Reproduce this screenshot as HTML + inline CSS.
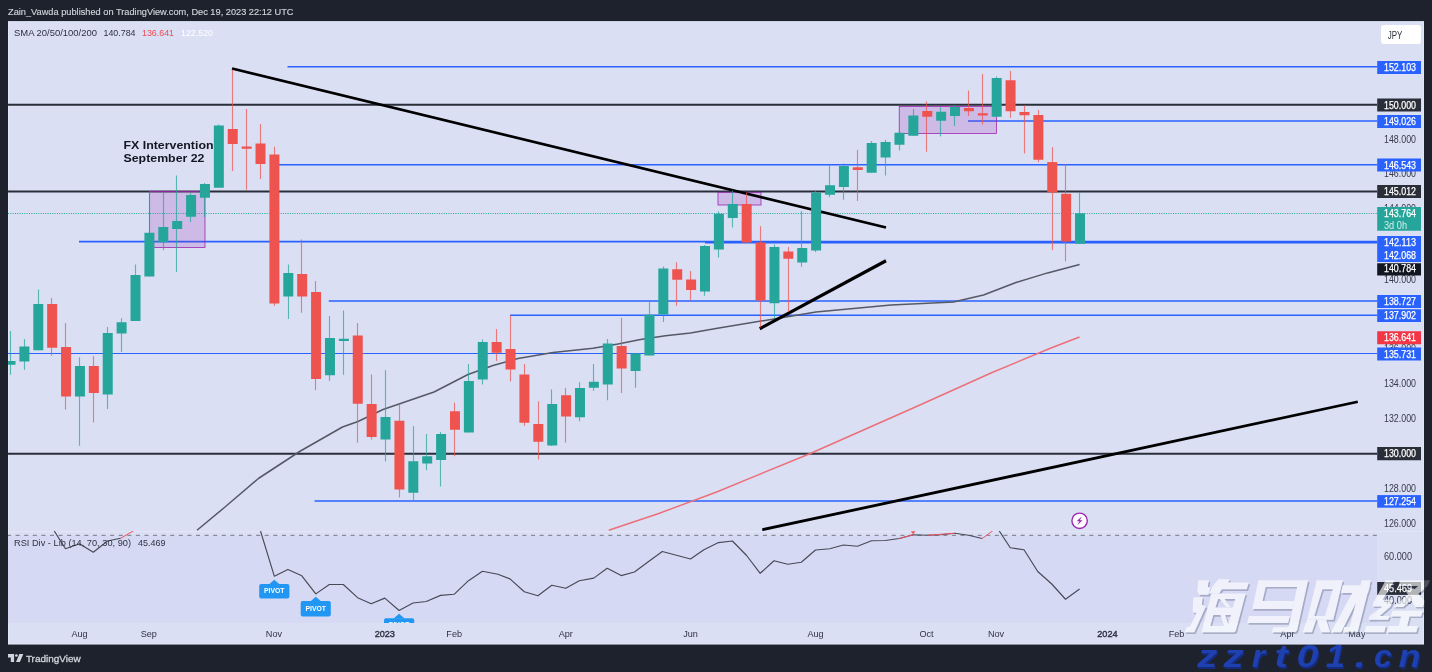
<!DOCTYPE html>
<html><head><meta charset="utf-8"><title>USDJPY</title>
<style>
html,body{margin:0;padding:0;background:#1e222d;}
body{width:1432px;height:672px;overflow:hidden;}
svg{display:block;opacity:0.999;}
text{font-family:"Liberation Sans",sans-serif;}
</style></head><body>
<svg width="1432" height="672" viewBox="0 0 1432 672">
<defs><clipPath id="cp"><rect x="8" y="21" width="1416" height="623"/></clipPath>
<clipPath id="rsi"><rect x="8" y="531" width="1369" height="92"/></clipPath>
<clipPath id="main"><rect x="8" y="21" width="1369" height="510"/></clipPath></defs>
<rect x="0" y="0" width="1432" height="672" fill="#1e222d"/>
<rect x="8" y="21.2" width="1416" height="623.2" fill="#dadff4"/>
<rect x="8.5" y="21.7" width="1415" height="622.2" fill="none" stroke="#e2e9fb" stroke-width="1" opacity="0.7"/>
<rect x="8" y="535.5" width="1369" height="87.3" fill="#d5d9f3"/>

<g clip-path="url(#main)">
<line x1="287.5" y1="66.75" x2="1378" y2="66.75" stroke="#2962ff" stroke-width="1.6"/>
<line x1="968" y1="121" x2="1378" y2="121" stroke="#2962ff" stroke-width="1.6"/>
<line x1="274" y1="164.75" x2="1378" y2="164.75" stroke="#2962ff" stroke-width="1.6"/>
<line x1="79" y1="241.6" x2="1378" y2="241.6" stroke="#2962ff" stroke-width="1.8"/>
<line x1="705" y1="242.6" x2="1378" y2="242.6" stroke="#2962ff" stroke-width="1.8"/>
<line x1="328.75" y1="301" x2="1378" y2="301" stroke="#2962ff" stroke-width="1.6"/>
<line x1="510" y1="315.25" x2="1378" y2="315.25" stroke="#2962ff" stroke-width="1.6"/>
<line x1="8" y1="353.5" x2="1378" y2="353.5" stroke="#2962ff" stroke-width="1.2"/>
<line x1="314.5" y1="501" x2="1378" y2="501" stroke="#2962ff" stroke-width="1.6"/>
<line x1="8" y1="104.75" x2="1378" y2="104.75" stroke="#2a2e39" stroke-width="2"/>
<line x1="8" y1="191.5" x2="1378" y2="191.5" stroke="#2a2e39" stroke-width="2.2"/>
<line x1="8" y1="453.75" x2="1378" y2="453.75" stroke="#2a2e39" stroke-width="2.2"/>
<rect x="149.5" y="191.5" width="55.5" height="56.0" fill="rgba(156,39,176,0.2)" stroke="#9c27b0" stroke-width="0.8"/>
<rect x="718" y="192.25" width="43" height="12.75" fill="rgba(156,39,176,0.2)" stroke="#9c27b0" stroke-width="0.8"/>
<rect x="899.25" y="106.5" width="97.25" height="27.0" fill="rgba(156,39,176,0.2)" stroke="#9c27b0" stroke-width="0.8"/>
<line x1="8" y1="213.5" x2="1378" y2="213.5" stroke="#26a69a" stroke-width="1" stroke-dasharray="1 1.33"/>
<polyline fill="none" stroke="#555965" stroke-width="1.5" stroke-linejoin="round" points="197,530.25 225,507 258.75,478.25 300,451.25 342.5,427 358,421.5 383,409.5 434,392 468,374.5 493,365.5 518,358.5 553,352.5 593,348.25 618,344 640.5,339.5 665.5,335.75 690.5,333 716,328.5 816,312 891,305 953.5,302 983.5,295 1016,282.5 1047.6,272.9 1079.6,264.5"/>
<polyline fill="none" stroke="#ec6f78" stroke-width="1.4" stroke-linejoin="round" points="608.75,530.25 658,513.75 716,492.25 809.75,453.75 916,406.75 991,373 1051,348 1079.5,337"/>
<line x1="232" y1="68.5" x2="886" y2="227.5" stroke="#000" stroke-width="2.8" stroke-linecap="butt"/>
<line x1="759.75" y1="328.75" x2="886" y2="260.75" stroke="#000" stroke-width="3.2" stroke-linecap="butt"/>
<line x1="762.25" y1="529.75" x2="1357.75" y2="401.75" stroke="#000" stroke-width="2.8" stroke-linecap="butt"/>
<line x1="10.5" y1="331.0" x2="10.5" y2="374.75" stroke="#26a69a" stroke-width="1.15" opacity="0.72"/>
<rect x="5.50" y="361.0" width="10" height="3.75" fill="#26a69a"/>
<line x1="24.5" y1="339.0" x2="24.5" y2="369.75" stroke="#26a69a" stroke-width="1.15" opacity="0.72"/>
<rect x="19.39" y="346.5" width="10" height="15.00" fill="#26a69a"/>
<line x1="38.5" y1="289.5" x2="38.5" y2="350.25" stroke="#26a69a" stroke-width="1.15" opacity="0.72"/>
<rect x="33.28" y="304.0" width="10" height="46.25" fill="#26a69a"/>
<line x1="51.5" y1="298.0" x2="51.5" y2="355.75" stroke="#ef5350" stroke-width="1.15" opacity="0.72"/>
<rect x="47.17" y="304.0" width="10" height="43.75" fill="#ef5350"/>
<line x1="65.5" y1="323.0" x2="65.5" y2="409.5" stroke="#ef5350" stroke-width="1.15" opacity="0.72"/>
<rect x="61.06" y="347.0" width="10" height="49.50" fill="#ef5350"/>
<line x1="79.5" y1="357.25" x2="79.5" y2="445.75" stroke="#26a69a" stroke-width="1.15" opacity="0.72"/>
<rect x="74.95" y="366.0" width="10" height="30.50" fill="#26a69a"/>
<line x1="93.5" y1="356.0" x2="93.5" y2="422.5" stroke="#ef5350" stroke-width="1.15" opacity="0.72"/>
<rect x="88.84" y="366.0" width="10" height="27.00" fill="#ef5350"/>
<line x1="107.5" y1="327.0" x2="107.5" y2="409.0" stroke="#26a69a" stroke-width="1.15" opacity="0.72"/>
<rect x="102.73" y="333.0" width="10" height="61.50" fill="#26a69a"/>
<line x1="121.5" y1="318.25" x2="121.5" y2="352.0" stroke="#26a69a" stroke-width="1.15" opacity="0.72"/>
<rect x="116.62" y="322.25" width="10" height="11.25" fill="#26a69a"/>
<line x1="135.5" y1="264.5" x2="135.5" y2="321.0" stroke="#26a69a" stroke-width="1.15" opacity="0.72"/>
<rect x="130.51" y="275.0" width="10" height="46.00" fill="#26a69a"/>
<line x1="149.5" y1="192.0" x2="149.5" y2="276.5" stroke="#26a69a" stroke-width="1.15" opacity="0.72"/>
<rect x="144.40" y="232.75" width="10" height="43.75" fill="#26a69a"/>
<line x1="163.5" y1="192.0" x2="163.5" y2="250.25" stroke="#26a69a" stroke-width="1.15" opacity="0.72"/>
<rect x="158.29" y="227.0" width="10" height="15.25" fill="#26a69a"/>
<line x1="176.5" y1="175.5" x2="176.5" y2="272.0" stroke="#26a69a" stroke-width="1.15" opacity="0.72"/>
<rect x="172.18" y="221.0" width="10" height="8.00" fill="#26a69a"/>
<line x1="190.5" y1="193.0" x2="190.5" y2="222.0" stroke="#26a69a" stroke-width="1.15" opacity="0.72"/>
<rect x="186.07" y="195.0" width="10" height="21.75" fill="#26a69a"/>
<line x1="204.5" y1="183.0" x2="204.5" y2="217.0" stroke="#26a69a" stroke-width="1.15" opacity="0.72"/>
<rect x="199.96" y="184.0" width="10" height="13.75" fill="#26a69a"/>
<line x1="218.5" y1="124.5" x2="218.5" y2="187.75" stroke="#26a69a" stroke-width="1.15" opacity="0.72"/>
<rect x="213.85" y="125.5" width="10" height="62.25" fill="#26a69a"/>
<line x1="232.5" y1="69.75" x2="232.5" y2="171.0" stroke="#ef5350" stroke-width="1.15" opacity="0.72"/>
<rect x="227.74" y="129.0" width="10" height="15.00" fill="#ef5350"/>
<line x1="246.5" y1="109.0" x2="246.5" y2="189.75" stroke="#ef5350" stroke-width="1.15" opacity="0.72"/>
<rect x="241.63" y="146.5" width="10" height="2.25" fill="#ef5350"/>
<line x1="260.5" y1="124.0" x2="260.5" y2="179.0" stroke="#ef5350" stroke-width="1.15" opacity="0.72"/>
<rect x="255.52" y="143.5" width="10" height="20.50" fill="#ef5350"/>
<line x1="274.5" y1="146.75" x2="274.5" y2="305.75" stroke="#ef5350" stroke-width="1.15" opacity="0.72"/>
<rect x="269.41" y="154.5" width="10" height="149.00" fill="#ef5350"/>
<line x1="288.5" y1="264.5" x2="288.5" y2="319.0" stroke="#26a69a" stroke-width="1.15" opacity="0.72"/>
<rect x="283.30" y="273.0" width="10" height="23.50" fill="#26a69a"/>
<line x1="301.5" y1="239.5" x2="301.5" y2="312.75" stroke="#ef5350" stroke-width="1.15" opacity="0.72"/>
<rect x="297.19" y="274.0" width="10" height="22.50" fill="#ef5350"/>
<line x1="315.5" y1="281.0" x2="315.5" y2="390.25" stroke="#ef5350" stroke-width="1.15" opacity="0.72"/>
<rect x="311.08" y="292.0" width="10" height="87.00" fill="#ef5350"/>
<line x1="329.5" y1="316.0" x2="329.5" y2="381.0" stroke="#26a69a" stroke-width="1.15" opacity="0.72"/>
<rect x="324.97" y="338.0" width="10" height="37.25" fill="#26a69a"/>
<line x1="343.5" y1="310.5" x2="343.5" y2="374.75" stroke="#26a69a" stroke-width="1.15" opacity="0.72"/>
<rect x="338.86" y="338.75" width="10" height="2.25" fill="#26a69a"/>
<line x1="357.5" y1="323.0" x2="357.5" y2="442.75" stroke="#ef5350" stroke-width="1.15" opacity="0.72"/>
<rect x="352.75" y="335.5" width="10" height="68.25" fill="#ef5350"/>
<line x1="371.5" y1="374.5" x2="371.5" y2="439.5" stroke="#ef5350" stroke-width="1.15" opacity="0.72"/>
<rect x="366.64" y="404.0" width="10" height="33.00" fill="#ef5350"/>
<line x1="385.5" y1="370.25" x2="385.5" y2="461.5" stroke="#26a69a" stroke-width="1.15" opacity="0.72"/>
<rect x="380.53" y="417.0" width="10" height="22.50" fill="#26a69a"/>
<line x1="399.5" y1="403.75" x2="399.5" y2="497.5" stroke="#ef5350" stroke-width="1.15" opacity="0.72"/>
<rect x="394.42" y="420.75" width="10" height="68.75" fill="#ef5350"/>
<line x1="413.5" y1="426.25" x2="413.5" y2="500.75" stroke="#26a69a" stroke-width="1.15" opacity="0.72"/>
<rect x="408.31" y="461.25" width="10" height="31.50" fill="#26a69a"/>
<line x1="426.5" y1="434.0" x2="426.5" y2="470.25" stroke="#26a69a" stroke-width="1.15" opacity="0.72"/>
<rect x="422.20" y="456.25" width="10" height="7.25" fill="#26a69a"/>
<line x1="440.5" y1="432.0" x2="440.5" y2="486.5" stroke="#26a69a" stroke-width="1.15" opacity="0.72"/>
<rect x="436.09" y="434.0" width="10" height="26.00" fill="#26a69a"/>
<line x1="454.5" y1="402.75" x2="454.5" y2="456.25" stroke="#ef5350" stroke-width="1.15" opacity="0.72"/>
<rect x="449.98" y="411.25" width="10" height="18.50" fill="#ef5350"/>
<line x1="468.5" y1="364.0" x2="468.5" y2="432.5" stroke="#26a69a" stroke-width="1.15" opacity="0.72"/>
<rect x="463.87" y="381.0" width="10" height="51.50" fill="#26a69a"/>
<line x1="482.5" y1="339.5" x2="482.5" y2="384.5" stroke="#26a69a" stroke-width="1.15" opacity="0.72"/>
<rect x="477.76" y="342.0" width="10" height="37.50" fill="#26a69a"/>
<line x1="496.5" y1="329.0" x2="496.5" y2="361.0" stroke="#ef5350" stroke-width="1.15" opacity="0.72"/>
<rect x="491.65" y="342.0" width="10" height="10.75" fill="#ef5350"/>
<line x1="510.5" y1="315.25" x2="510.5" y2="381.5" stroke="#ef5350" stroke-width="1.15" opacity="0.72"/>
<rect x="505.54" y="349.0" width="10" height="20.50" fill="#ef5350"/>
<line x1="524.5" y1="364.0" x2="524.5" y2="425.75" stroke="#ef5350" stroke-width="1.15" opacity="0.72"/>
<rect x="519.43" y="374.5" width="10" height="48.25" fill="#ef5350"/>
<line x1="538.5" y1="401.25" x2="538.5" y2="459.5" stroke="#ef5350" stroke-width="1.15" opacity="0.72"/>
<rect x="533.32" y="424.0" width="10" height="17.75" fill="#ef5350"/>
<line x1="551.5" y1="389.5" x2="551.5" y2="446.0" stroke="#26a69a" stroke-width="1.15" opacity="0.72"/>
<rect x="547.21" y="404.0" width="10" height="41.50" fill="#26a69a"/>
<line x1="565.5" y1="387.75" x2="565.5" y2="442.5" stroke="#ef5350" stroke-width="1.15" opacity="0.72"/>
<rect x="561.10" y="395.25" width="10" height="21.25" fill="#ef5350"/>
<line x1="579.5" y1="382.25" x2="579.5" y2="421.25" stroke="#26a69a" stroke-width="1.15" opacity="0.72"/>
<rect x="574.99" y="388.0" width="10" height="29.25" fill="#26a69a"/>
<line x1="593.5" y1="364.0" x2="593.5" y2="390.75" stroke="#26a69a" stroke-width="1.15" opacity="0.72"/>
<rect x="588.88" y="381.75" width="10" height="6.00" fill="#26a69a"/>
<line x1="607.5" y1="339.0" x2="607.5" y2="400.25" stroke="#26a69a" stroke-width="1.15" opacity="0.72"/>
<rect x="602.77" y="343.5" width="10" height="41.00" fill="#26a69a"/>
<line x1="621.5" y1="317.75" x2="621.5" y2="393.0" stroke="#ef5350" stroke-width="1.15" opacity="0.72"/>
<rect x="616.66" y="346.0" width="10" height="22.50" fill="#ef5350"/>
<line x1="635.5" y1="353.0" x2="635.5" y2="387.75" stroke="#26a69a" stroke-width="1.15" opacity="0.72"/>
<rect x="630.55" y="353.5" width="10" height="17.50" fill="#26a69a"/>
<line x1="649.5" y1="302.0" x2="649.5" y2="355.5" stroke="#26a69a" stroke-width="1.15" opacity="0.72"/>
<rect x="644.44" y="314.75" width="10" height="40.75" fill="#26a69a"/>
<line x1="663.5" y1="266.5" x2="663.5" y2="322.0" stroke="#26a69a" stroke-width="1.15" opacity="0.72"/>
<rect x="658.33" y="268.5" width="10" height="46.00" fill="#26a69a"/>
<line x1="676.5" y1="262.25" x2="676.5" y2="305.75" stroke="#ef5350" stroke-width="1.15" opacity="0.72"/>
<rect x="672.22" y="269.25" width="10" height="10.50" fill="#ef5350"/>
<line x1="690.5" y1="271.0" x2="690.5" y2="300.25" stroke="#ef5350" stroke-width="1.15" opacity="0.72"/>
<rect x="686.11" y="279.5" width="10" height="10.50" fill="#ef5350"/>
<line x1="704.5" y1="245.0" x2="704.5" y2="295.75" stroke="#26a69a" stroke-width="1.15" opacity="0.72"/>
<rect x="700.00" y="246.0" width="10" height="45.50" fill="#26a69a"/>
<line x1="718.5" y1="211.5" x2="718.5" y2="257.5" stroke="#26a69a" stroke-width="1.15" opacity="0.72"/>
<rect x="713.89" y="213.75" width="10" height="35.75" fill="#26a69a"/>
<line x1="732.5" y1="190.5" x2="732.5" y2="227.5" stroke="#26a69a" stroke-width="1.15" opacity="0.72"/>
<rect x="727.78" y="204.0" width="10" height="14.00" fill="#26a69a"/>
<line x1="746.5" y1="192.5" x2="746.5" y2="242.5" stroke="#ef5350" stroke-width="1.15" opacity="0.72"/>
<rect x="741.67" y="204.0" width="10" height="38.50" fill="#ef5350"/>
<line x1="760.5" y1="226.25" x2="760.5" y2="327.5" stroke="#ef5350" stroke-width="1.15" opacity="0.72"/>
<rect x="755.56" y="242.5" width="10" height="58.00" fill="#ef5350"/>
<line x1="774.5" y1="244.5" x2="774.5" y2="318.25" stroke="#26a69a" stroke-width="1.15" opacity="0.72"/>
<rect x="769.45" y="247.0" width="10" height="56.25" fill="#26a69a"/>
<line x1="788.5" y1="247.0" x2="788.5" y2="312.0" stroke="#ef5350" stroke-width="1.15" opacity="0.72"/>
<rect x="783.34" y="251.5" width="10" height="7.25" fill="#ef5350"/>
<line x1="801.5" y1="211.0" x2="801.5" y2="266.75" stroke="#26a69a" stroke-width="1.15" opacity="0.72"/>
<rect x="797.23" y="248.0" width="10" height="14.50" fill="#26a69a"/>
<line x1="815.5" y1="191.0" x2="815.5" y2="252.0" stroke="#26a69a" stroke-width="1.15" opacity="0.72"/>
<rect x="811.12" y="192.5" width="10" height="58.00" fill="#26a69a"/>
<line x1="829.5" y1="164.75" x2="829.5" y2="197.25" stroke="#26a69a" stroke-width="1.15" opacity="0.72"/>
<rect x="825.01" y="185.25" width="10" height="9.50" fill="#26a69a"/>
<line x1="843.5" y1="163.5" x2="843.5" y2="199.75" stroke="#26a69a" stroke-width="1.15" opacity="0.72"/>
<rect x="838.90" y="166.0" width="10" height="21.00" fill="#26a69a"/>
<line x1="857.5" y1="150.0" x2="857.5" y2="201.0" stroke="#ef5350" stroke-width="1.15" opacity="0.72"/>
<rect x="852.79" y="167.25" width="10" height="2.75" fill="#ef5350"/>
<line x1="871.5" y1="141.0" x2="871.5" y2="172.75" stroke="#26a69a" stroke-width="1.15" opacity="0.72"/>
<rect x="866.68" y="143.0" width="10" height="29.75" fill="#26a69a"/>
<line x1="885.5" y1="139.75" x2="885.5" y2="175.5" stroke="#26a69a" stroke-width="1.15" opacity="0.72"/>
<rect x="880.57" y="142.0" width="10" height="15.50" fill="#26a69a"/>
<line x1="899.5" y1="131.0" x2="899.5" y2="150.5" stroke="#26a69a" stroke-width="1.15" opacity="0.72"/>
<rect x="894.46" y="132.75" width="10" height="12.00" fill="#26a69a"/>
<line x1="913.5" y1="109.0" x2="913.5" y2="135.75" stroke="#26a69a" stroke-width="1.15" opacity="0.72"/>
<rect x="908.35" y="115.5" width="10" height="20.25" fill="#26a69a"/>
<line x1="926.5" y1="101.5" x2="926.5" y2="151.75" stroke="#ef5350" stroke-width="1.15" opacity="0.72"/>
<rect x="922.24" y="111.0" width="10" height="5.75" fill="#ef5350"/>
<line x1="940.5" y1="107.25" x2="940.5" y2="136.5" stroke="#26a69a" stroke-width="1.15" opacity="0.72"/>
<rect x="936.13" y="111.75" width="10" height="9.00" fill="#26a69a"/>
<line x1="954.5" y1="105.0" x2="954.5" y2="126.0" stroke="#26a69a" stroke-width="1.15" opacity="0.72"/>
<rect x="950.02" y="107.0" width="10" height="9.00" fill="#26a69a"/>
<line x1="968.5" y1="90.5" x2="968.5" y2="116.0" stroke="#ef5350" stroke-width="1.15" opacity="0.72"/>
<rect x="963.91" y="108.0" width="10" height="3.25" fill="#ef5350"/>
<line x1="982.5" y1="74.0" x2="982.5" y2="124.5" stroke="#ef5350" stroke-width="1.15" opacity="0.72"/>
<rect x="977.80" y="113.25" width="10" height="2.25" fill="#ef5350"/>
<line x1="996.5" y1="76.5" x2="996.5" y2="116.75" stroke="#26a69a" stroke-width="1.15" opacity="0.72"/>
<rect x="991.69" y="78.0" width="10" height="38.75" fill="#26a69a"/>
<line x1="1010.5" y1="71.0" x2="1010.5" y2="117.75" stroke="#ef5350" stroke-width="1.15" opacity="0.72"/>
<rect x="1005.58" y="80.25" width="10" height="31.00" fill="#ef5350"/>
<line x1="1024.5" y1="105.25" x2="1024.5" y2="153.5" stroke="#ef5350" stroke-width="1.15" opacity="0.72"/>
<rect x="1019.47" y="112.0" width="10" height="3.25" fill="#ef5350"/>
<line x1="1038.5" y1="110.0" x2="1038.5" y2="162.25" stroke="#ef5350" stroke-width="1.15" opacity="0.72"/>
<rect x="1033.36" y="115.0" width="10" height="44.75" fill="#ef5350"/>
<line x1="1052.5" y1="147.1" x2="1052.5" y2="250.2" stroke="#ef5350" stroke-width="1.15" opacity="0.72"/>
<rect x="1047.25" y="162.1" width="10" height="30.30" fill="#ef5350"/>
<line x1="1065.5" y1="164.0" x2="1065.5" y2="261.4" stroke="#ef5350" stroke-width="1.15" opacity="0.72"/>
<rect x="1061.14" y="193.8" width="10" height="47.80" fill="#ef5350"/>
<line x1="1079.5" y1="192.4" x2="1079.5" y2="243.8" stroke="#26a69a" stroke-width="1.15" opacity="0.72"/>
<rect x="1075.03" y="213.3" width="10" height="30.50" fill="#26a69a"/>
</g>
<text x="123.5" y="149" font-size="11.5" font-weight="bold" fill="#131722" textLength="90" lengthAdjust="spacingAndGlyphs">FX Intervention</text>
<text x="123.5" y="161.5" font-size="11.5" font-weight="bold" fill="#131722" textLength="81" lengthAdjust="spacingAndGlyphs">September 22</text>
<circle cx="1079.6" cy="520.8" r="7.7" fill="#fff" stroke="#9c27b0" stroke-width="1.4"/>
<path d="M1081.8 516.6 L1076.6 521.3 L1079.4 521.3 L1077.3 525.2 L1082.6 520.2 L1079.9 520.2 Z" fill="#9c27b0"/>
<line x1="8" y1="531.5" x2="1424" y2="531.5" stroke="#e6ebf8" stroke-width="1" opacity="0.6"/>
<line x1="8" y1="535.4" x2="1377" y2="535.4" stroke="#888b97" stroke-width="1.1" stroke-dasharray="4.06 4.53" stroke-dashoffset="1"/>
<g clip-path="url(#rsi)" fill="none" stroke-linejoin="round">
<polyline stroke="#464a56" stroke-width="1.15" points="51.75,527 65.5,548.75 79.5,543.75 93.25,552.25 107.5,541 120.75,538.25"/>
<polyline stroke="#464a56" stroke-width="1.15" points="260.5,531 274.3,576.2 287.9,569.4 301.8,575.8 315.8,593.9 329.3,584.5 343.3,584.5 357.6,597.7 371.2,603.7 384.8,598.1 399.1,610.5 413,603 426.2,601.5 440.6,595.4 454.1,594.3 468.5,580.7 482.4,571.3 497.9,574.3 510,578.9 524.3,591.7 537.9,595.8 551.8,585.3 565.8,588.3 579.3,580.7 593.7,578.1 607.2,568.3 621.2,575.6 634.4,572 648.3,561.8 662.3,551.5 676.4,555.2 690.5,559 703.9,549.7 718.5,542.6 732.4,541 746.6,555.5 760.2,573.3 774,560.8 787.8,564.3 801.3,562.3 815.5,550 829.7,548.8 843.5,545 857.5,546.25 871.5,540.75 885.25,540.5 899.25,538.5 913.25,534.75 927.25,535.25 941,534.75 954.75,533.25 968.5,535.25 982.25,538.5"/>
<polyline stroke="#464a56" stroke-width="1.15" points="996.7,527 1010.25,547.75 1024,549.75 1037.75,571.5 1051.75,584 1065.5,599.25 1079.6,589"/>
<polyline stroke="#f0525f" stroke-width="1" points="120.75,538.25 134.5,530.2"/>
<polyline stroke="#f0525f" stroke-width="1" points="899.25,538.5 913.25,534.75"/>
<polyline stroke="#f0525f" stroke-width="1" points="927.25,535.25 954.75,533.25"/>
<polyline stroke="#f0525f" stroke-width="1" points="982.25,538.5 996.1,528.3"/>
<path d="M910.8 531.2 L915.6 531.2 L913.2 534.2 Z" fill="#f0525f" stroke="none"/>
</g>
<g clip-path="url(#rsi)">
<rect x="259.2" y="584.1" width="30.2" height="14.4" rx="2" fill="#2196f3"/>
<path d="M268.8 584.4 L274.3 579.8 L279.8 584.4 Z" fill="#2196f3"/>
<text x="274.3" y="593.3" font-size="7.6" font-weight="bold" fill="#fff" text-anchor="middle" textLength="20.5" lengthAdjust="spacingAndGlyphs">PIVOT</text>
<rect x="300.7" y="601.1" width="30.1" height="15.5" rx="2" fill="#2196f3"/>
<path d="M310.3 601.4 L315.8 596.8 L321.3 601.4 Z" fill="#2196f3"/>
<text x="315.8" y="610.9" font-size="7.6" font-weight="bold" fill="#fff" text-anchor="middle" textLength="20.5" lengthAdjust="spacingAndGlyphs">PIVOT</text>
<rect x="384" y="618.2" width="30.2" height="14.0" rx="2" fill="#2196f3"/>
<path d="M393.6 618.5 L399.1 613.8 L404.6 618.5 Z" fill="#2196f3"/>
<text x="399.1" y="627.2" font-size="7.6" font-weight="bold" fill="#fff" text-anchor="middle" textLength="20.5" lengthAdjust="spacingAndGlyphs">PIVOT</text>
</g>
<text x="14" y="36.3" font-size="9.8" fill="#2f3340" textLength="83" lengthAdjust="spacingAndGlyphs">SMA 20/50/100/200</text>
<text x="103.5" y="36.3" font-size="9.8" fill="#2f3340" textLength="32" lengthAdjust="spacingAndGlyphs">140.784</text>
<text x="142" y="36.3" font-size="9.8" fill="#ef4a55" textLength="32" lengthAdjust="spacingAndGlyphs">136.641</text>
<text x="181" y="36.3" font-size="9.8" fill="#ffffff" textLength="32" lengthAdjust="spacingAndGlyphs">122.520</text>
<text x="14" y="546.2" font-size="9.8" fill="#2f3340" textLength="117" lengthAdjust="spacingAndGlyphs">RSI Div - Lib (14, 70, 30, 90)</text>
<text x="138" y="546.2" font-size="9.8" fill="#2f3340" textLength="27.5" lengthAdjust="spacingAndGlyphs">45.469</text>
<rect x="1381" y="25" width="40" height="19" rx="3" fill="#fff"/>
<text x="1387.7" y="38.6" font-size="10" fill="#2f3340" textLength="14.6" lengthAdjust="spacingAndGlyphs">JPY</text>
<text x="1384" y="142.9" font-size="10.4" font-weight="normal" fill="#363a47" textLength="32" lengthAdjust="spacingAndGlyphs">148.000</text>
<text x="1384" y="177.2" font-size="10.4" font-weight="normal" fill="#363a47" textLength="32" lengthAdjust="spacingAndGlyphs">146.000</text>
<text x="1384" y="212.2" font-size="10.4" font-weight="normal" fill="#363a47" textLength="32" lengthAdjust="spacingAndGlyphs">144.000</text>
<text x="1384" y="282.8" font-size="10.4" font-weight="normal" fill="#363a47" textLength="32" lengthAdjust="spacingAndGlyphs">140.000</text>
<text x="1384" y="352.0" font-size="10.4" font-weight="normal" fill="#363a47" textLength="32" lengthAdjust="spacingAndGlyphs">136.000</text>
<text x="1384" y="387.1" font-size="10.4" font-weight="normal" fill="#363a47" textLength="32" lengthAdjust="spacingAndGlyphs">134.000</text>
<text x="1384" y="422.1" font-size="10.4" font-weight="normal" fill="#363a47" textLength="32" lengthAdjust="spacingAndGlyphs">132.000</text>
<text x="1384" y="491.9" font-size="10.4" font-weight="normal" fill="#363a47" textLength="32" lengthAdjust="spacingAndGlyphs">128.000</text>
<text x="1384" y="526.8" font-size="10.4" font-weight="normal" fill="#363a47" textLength="32" lengthAdjust="spacingAndGlyphs">126.000</text>
<text x="1384" y="560.2" font-size="10.4" fill="#363a47" textLength="28" lengthAdjust="spacingAndGlyphs">60.000</text>
<text x="1384" y="604.2" font-size="10.4" fill="#363a47" textLength="28" lengthAdjust="spacingAndGlyphs">40.000</text>
<rect x="1377.2" y="61" width="43.8" height="13.00" fill="#2962ff"/>
<text x="1384" y="71.0" font-size="10.4" fill="#fff" stroke="#fff" stroke-width="0.25" textLength="32" lengthAdjust="spacingAndGlyphs">152.103</text>
<rect x="1377.2" y="98.5" width="43.8" height="13.00" fill="#2a2e39"/>
<text x="1384" y="108.5" font-size="10.4" fill="#fff" stroke="#fff" stroke-width="0.25" textLength="32" lengthAdjust="spacingAndGlyphs">150.000</text>
<rect x="1377.2" y="115" width="43.8" height="13.00" fill="#2962ff"/>
<text x="1384" y="125.0" font-size="10.4" fill="#fff" stroke="#fff" stroke-width="0.25" textLength="32" lengthAdjust="spacingAndGlyphs">149.026</text>
<rect x="1377.2" y="158.5" width="43.8" height="13.00" fill="#2962ff"/>
<text x="1384" y="168.6" font-size="10.4" fill="#fff" stroke="#fff" stroke-width="0.25" textLength="32" lengthAdjust="spacingAndGlyphs">146.543</text>
<rect x="1377.2" y="185" width="43.8" height="13.00" fill="#2a2e39"/>
<text x="1384" y="195.1" font-size="10.4" fill="#fff" stroke="#fff" stroke-width="0.25" textLength="32" lengthAdjust="spacingAndGlyphs">145.012</text>
<rect x="1377.2" y="207" width="43.8" height="23.75" fill="#26a69a"/>
<text x="1384" y="217.3" font-size="10.4" fill="#fff" stroke="#fff" stroke-width="0.25" textLength="32" lengthAdjust="spacingAndGlyphs">143.764</text>
<text x="1384" y="228.5" font-size="10.2" fill="#d3eeea" textLength="23" lengthAdjust="spacingAndGlyphs">3d 0h</text>
<rect x="1377.2" y="236" width="43.8" height="26.00" fill="#2962ff"/>
<text x="1384" y="246.1" font-size="10.4" fill="#fff" stroke="#fff" stroke-width="0.25" textLength="32" lengthAdjust="spacingAndGlyphs">142.113</text>
<text x="1384" y="259.05" font-size="10.4" fill="#fff" stroke="#fff" stroke-width="0.25" textLength="32" lengthAdjust="spacingAndGlyphs">142.068</text>
<rect x="1377.2" y="263.25" width="43.8" height="12.25" fill="#131722"/>
<text x="1384" y="272.4" font-size="10.4" fill="#fff" stroke="#fff" stroke-width="0.25" textLength="32" lengthAdjust="spacingAndGlyphs">140.784</text>
<rect x="1377.2" y="295" width="43.8" height="13.00" fill="#2962ff"/>
<text x="1384" y="305.1" font-size="10.4" fill="#fff" stroke="#fff" stroke-width="0.25" textLength="32" lengthAdjust="spacingAndGlyphs">138.727</text>
<rect x="1377.2" y="309.25" width="43.8" height="12.75" fill="#2962ff"/>
<text x="1384" y="319.2" font-size="10.4" fill="#fff" stroke="#fff" stroke-width="0.25" textLength="32" lengthAdjust="spacingAndGlyphs">137.902</text>
<rect x="1377.2" y="331.25" width="43.8" height="13.00" fill="#f23645"/>
<text x="1384" y="341.3" font-size="10.4" fill="#fff" stroke="#fff" stroke-width="0.25" textLength="32" lengthAdjust="spacingAndGlyphs">136.641</text>
<rect x="1377.2" y="347.5" width="43.8" height="13.00" fill="#2962ff"/>
<text x="1384" y="357.6" font-size="10.4" fill="#fff" stroke="#fff" stroke-width="0.25" textLength="32" lengthAdjust="spacingAndGlyphs">135.731</text>
<rect x="1377.2" y="447" width="43.8" height="13.25" fill="#2a2e39"/>
<text x="1384" y="457.2" font-size="10.4" fill="#fff" stroke="#fff" stroke-width="0.25" textLength="32" lengthAdjust="spacingAndGlyphs">130.000</text>
<rect x="1377.2" y="495.1" width="43.8" height="12.60" fill="#2962ff"/>
<text x="1384" y="504.9" font-size="10.4" fill="#fff" stroke="#fff" stroke-width="0.25" textLength="32" lengthAdjust="spacingAndGlyphs">127.254</text>
<rect x="1377.2" y="582" width="43.8" height="12.90" fill="#2a2e39"/>
<text x="1384" y="592.0" font-size="10.4" fill="#fff" stroke="#fff" stroke-width="0.25" textLength="28" lengthAdjust="spacingAndGlyphs">45.469</text>
<text x="79.6" y="636.9" font-size="9.1" fill="#2f3340" text-anchor="middle">Aug</text>
<text x="148.8" y="636.9" font-size="9.1" fill="#2f3340" text-anchor="middle">Sep</text>
<text x="273.9" y="636.9" font-size="9.1" fill="#2f3340" text-anchor="middle">Nov</text>
<text x="454.2" y="636.9" font-size="9.1" fill="#2f3340" text-anchor="middle">Feb</text>
<text x="565.8" y="636.9" font-size="9.1" fill="#2f3340" text-anchor="middle">Apr</text>
<text x="690.6" y="636.9" font-size="9.1" fill="#2f3340" text-anchor="middle">Jun</text>
<text x="815.5" y="636.9" font-size="9.1" fill="#2f3340" text-anchor="middle">Aug</text>
<text x="926.5" y="636.9" font-size="9.1" fill="#2f3340" text-anchor="middle">Oct</text>
<text x="996" y="636.9" font-size="9.1" fill="#2f3340" text-anchor="middle">Nov</text>
<text x="1176.6" y="636.9" font-size="9.1" fill="#2f3340" text-anchor="middle">Feb</text>
<text x="1287.4" y="636.9" font-size="9.1" fill="#2f3340" text-anchor="middle">Apr</text>
<text x="1356.9" y="636.9" font-size="9.1" fill="#2f3340" text-anchor="middle">May</text>
<text x="384.8" y="636.9" font-size="9.1" fill="#2f3340" stroke="#2f3340" stroke-width="0.4" text-anchor="middle">2023</text>
<text x="1107.4" y="636.9" font-size="9.1" fill="#2f3340" stroke="#2f3340" stroke-width="0.4" text-anchor="middle">2024</text>
<text x="8" y="15" font-size="9.6" fill="#d1d4dc" stroke="#d1d4dc" stroke-width="0.15" textLength="285.5" lengthAdjust="spacingAndGlyphs">Zain_Vawda published on TradingView.com, Dec 19, 2023 22:12 UTC</text>
<path d="M8 654 h6.1 v8.1 h-3.3 v-4.7 h-2.8 Z M19.4 654 h3.9 l-3.4 8.1 h-3.9 Z" fill="#d1d4dc"/><circle cx="16.4" cy="655.5" r="1.35" fill="#d1d4dc"/>
<text x="25.9" y="662" font-size="9.6" fill="#d1d4dc" stroke="#d1d4dc" stroke-width="0.3" textLength="54.8" lengthAdjust="spacingAndGlyphs">TradingView</text>
<defs><clipPath id="inch"><rect x="0" y="0" width="1424" height="672"/></clipPath><clipPath id="outch"><rect x="1424" y="0" width="8" height="672"/></clipPath>
<filter id="wmb" x="-5%" y="-5%" width="110%" height="110%"><feGaussianBlur stdDeviation="0.5"/></filter><g id="wmg"><path d="M1198.3 580.2 L1208.8 580.2 L1207.8 586.9 L1210.7 588.1 L1208.4 594.8 L1199.0 594.8 L1197.3 590.7Z M1193.3 597.3 L1202.6 597.3 L1201.9 604.7 L1205.9 606.4 L1194.3 632.3 L1184.3 632.3 L1186.5 627.5 L1190.0 626.6 L1196.4 613.2 L1192.6 612.1Z M1218.1 579.2 L1229.5 579.2 L1228.1 582.6 L1248.8 582.6 L1246.7 589.2 L1221.9 589.2 L1219.0 593.5 L1209.0 593.5 L1212.4 586.4 L1217.6 580.2Z M1219.8 599.0 L1224.6 599.0 L1231.0 607.5 L1226.2 607.5Z M1220.5 615.0 L1225.2 615.0 L1228.8 625.9 L1224.0 625.9Z M1258.6 580.2 L1308.1 580.2 L1297.1 630.2 L1295.2 632.3 L1271.9 632.3 L1273.3 627.3 L1288.6 627.3 L1297.1 586.9 L1256.7 586.9Z M1257.0 586.9 L1265.7 586.9 L1262.5 601.1 L1294.1 601.1 L1292.4 609.0 L1252.2 609.0Z M1249.0 615.9 L1290.0 615.9 L1288.1 623.0 L1247.1 623.0Z M1307.1 619.7 L1316.2 619.7 L1311.9 632.2 L1302.9 632.2 L1304.3 627.3Z M1317.1 619.7 L1326.2 619.7 L1330.3 632.2 L1321.1 632.2Z M1361.7 580.2 L1370.9 580.2 L1357.6 632.2 L1343.0 632.2 L1344.3 627.1 L1349.7 627.1Z M1342.8 585.2 L1370.0 585.2 L1368.0 593.0 L1340.9 593.0Z M1352.2 593.0 L1360.9 593.0 L1341.1 632.2 L1330.9 632.2Z M1385.8 580.2 L1394.9 580.2 L1382.5 599.7 L1393.4 599.7 L1390.6 606.4 L1372.5 606.4 L1373.4 602.6Z M1382.5 606.4 L1390.6 606.4 L1379.6 615.9 L1389.6 615.9 L1388.2 619.7 L1368.2 619.7 L1369.6 615.9Z M1365.8 625.9 L1385.8 625.9 L1384.4 632.3 L1364.4 632.3Z M1400.1 580.2 L1430.1 580.2 L1427.7 585.9 L1403.0 606.9 L1393.4 606.9 L1418.2 585.9 L1398.7 585.9Z M1405.3 590.2 L1413.4 588.3 L1424.9 601.1 L1423.0 606.9 L1415.3 606.9Z M1392.5 610.7 L1423.0 610.7 L1421.0 616.4 L1409.6 616.4 L1407.2 625.9 L1418.2 625.9 L1416.3 632.3 L1386.8 632.3 L1388.7 625.9 L1398.7 625.9 L1401.0 616.4 L1390.6 616.4Z"/><path d="M1211.4 593.5 L1245.7 593.5 L1235.7 631.1 L1234.3 632.3 L1201.4 632.3Z M1218.1 599.0 L1235.2 599.0 L1232.9 607.5 L1215.4 607.5Z M1213.3 615.0 L1231.0 615.0 L1227.6 625.9 L1210.3 625.9Z M1316.7 580.2 L1342.8 580.2 L1333.3 619.7 L1307.1 619.7Z M1322.4 589.2 L1332.8 589.2 L1324.9 615.9 L1314.3 615.9Z" fill-rule="evenodd"/></g>
<mask id="wmm" maskUnits="userSpaceOnUse" x="1170" y="560" width="262" height="112"><rect x="1170" y="560" width="262" height="112" fill="#fff"/><use href="#wmg" fill="#000"/></mask></defs>
<g mask="url(#wmm)"><use href="#wmg" fill="rgba(70,76,110,0.33)" filter="url(#wmb)" transform="translate(1.4,1.7)" clip-path="url(#inch)"/></g>
<use href="#wmg" fill="rgba(255,255,255,0.64)" clip-path="url(#inch)"/>
<use href="#wmg" fill="rgba(255,255,255,0.2)" clip-path="url(#outch)"/>
<text transform="translate(1198.4,668.5) scale(1.3,1)" font-size="31" font-weight="bold" font-style="italic" fill="#152b7c">z</text>
<text transform="translate(1224.8,668.5) scale(1.3,1)" font-size="31" font-weight="bold" font-style="italic" fill="#152b7c">z</text>
<text transform="translate(1253.0,668.5) scale(1.1,1)" font-size="31" font-weight="bold" font-style="italic" fill="#152b7c">r</text>
<text transform="translate(1275.8,668.5) scale(1.3,1)" font-size="31" font-weight="bold" font-style="italic" fill="#152b7c">t</text>
<text transform="translate(1297.8,668.5) scale(1.28,1)" font-size="31" font-weight="bold" font-style="italic" fill="#152b7c">0</text>
<text transform="translate(1327.0,668.5) scale(1.12,1)" font-size="31" font-weight="bold" font-style="italic" fill="#152b7c">1</text>
<text transform="translate(1355.8,668.5) scale(1.3,1)" font-size="31" font-weight="bold" font-style="italic" fill="#152b7c">.</text>
<text transform="translate(1375.2,668.5) scale(1.05,1)" font-size="31" font-weight="bold" font-style="italic" fill="#152b7c">c</text>
<text transform="translate(1399.8,668.5) scale(1.17,1)" font-size="31" font-weight="bold" font-style="italic" fill="#152b7c">n</text>
<text transform="translate(1197.2,666.9) scale(1.3,1)" font-size="31" font-weight="bold" font-style="italic" fill="#1e40b0">z</text>
<text transform="translate(1223.6,666.9) scale(1.3,1)" font-size="31" font-weight="bold" font-style="italic" fill="#1e40b0">z</text>
<text transform="translate(1251.8,666.9) scale(1.1,1)" font-size="31" font-weight="bold" font-style="italic" fill="#1e40b0">r</text>
<text transform="translate(1274.6,666.9) scale(1.3,1)" font-size="31" font-weight="bold" font-style="italic" fill="#1e40b0">t</text>
<text transform="translate(1296.6,666.9) scale(1.28,1)" font-size="31" font-weight="bold" font-style="italic" fill="#1e40b0">0</text>
<text transform="translate(1325.8,666.9) scale(1.12,1)" font-size="31" font-weight="bold" font-style="italic" fill="#1e40b0">1</text>
<text transform="translate(1354.6,666.9) scale(1.3,1)" font-size="31" font-weight="bold" font-style="italic" fill="#1e40b0">.</text>
<text transform="translate(1374.0,666.9) scale(1.05,1)" font-size="31" font-weight="bold" font-style="italic" fill="#1e40b0">c</text>
<text transform="translate(1398.6,666.9) scale(1.17,1)" font-size="31" font-weight="bold" font-style="italic" fill="#1e40b0">n</text>
</svg></body></html>
